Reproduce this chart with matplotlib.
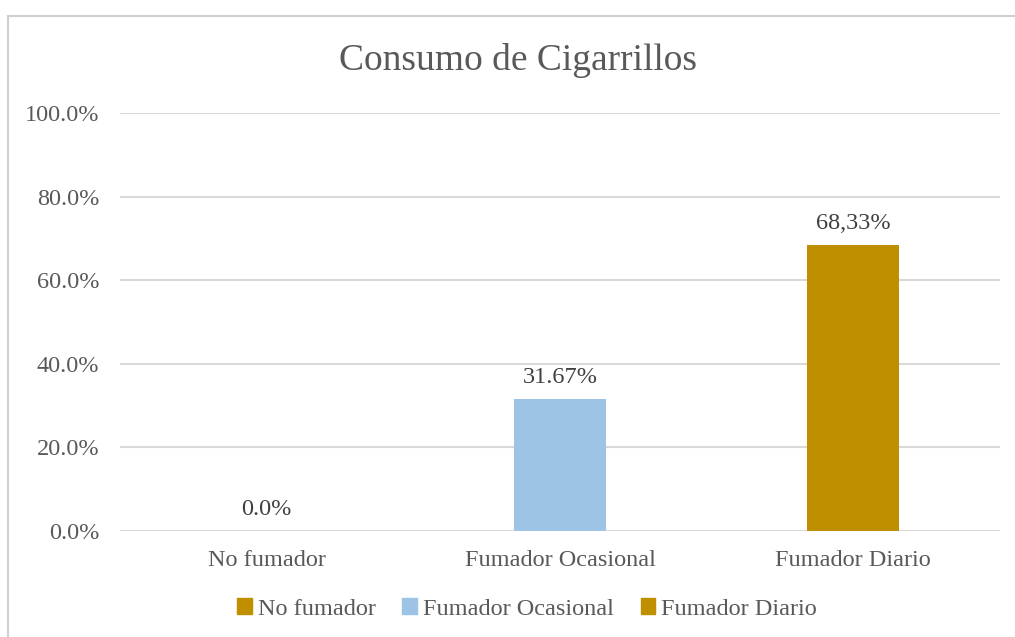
import matplotlib
matplotlib.use("Agg")
import matplotlib.pyplot as plt
from matplotlib.patches import Rectangle
from matplotlib.lines import Line2D

categories = ["No fumador", "Fumador Ocasional", "Fumador Diario"]
values = [0.0, 31.67, 68.33]
labels = ["0.0%", "31.67%", "68,33%"]
colors = ["#BF8F00", "#9DC3E6", "#BF8F00"]
yticks = [0, 20, 40, 60, 80, 100]
ytick_labels = ["0.0%", "20.0%", "40.0%", "60.0%", "80.0%", "100.0%"]

plt.rcParams["font.family"] = ["Liberation Serif", "DejaVu Serif"]
txt = "#595959"

W, H = 1015, 637
fig = plt.figure(figsize=(W / 100, H / 100), dpi=100)

# chart border (right/bottom edges fall outside the picture)
fig.add_artist(Line2D([8 / W, 8 / W], [0, 1 - 16 / H], color="#D0D0D0", lw=1.5))
fig.add_artist(Line2D([8 / W, 1], [1 - 16 / H, 1 - 16 / H], color="#D0D0D0", lw=1.5))

ax = fig.add_axes([120 / W, 1 - 531 / H, 880 / W, 418 / H])
x = range(len(categories))
bars = ax.bar(x, values, width=0.314, color=colors, zorder=3)
ax.set_xlim(-0.5, 2.5)
ax.set_ylim(0, 100)
ax.set_yticks(yticks)
ax.set_yticklabels(ytick_labels, fontsize=17.5, color=txt)
ax.set_xticks(list(x))
ax.set_xticklabels(categories, fontsize=17.5, color=txt)
ax.tick_params(axis="y", length=0, pad=15)
ax.tick_params(axis="x", length=0, pad=14)
ax.grid(axis="y", color="#D9D9D9", lw=1.5, zorder=0)
for s in ax.spines.values():
    s.set_visible(False)

for i, (v, lab) in enumerate(zip(values, labels)):
    ax.annotate(lab, (i, v), xytext=(0, 8), textcoords="offset points",
                ha="center", va="bottom", fontsize=17.5, color="#404040")

fig.text(518 / W, 1 - 61 / H, "Consumo de Cigarrillos",
         ha="center", va="center", fontsize=27, color=txt)

handles = [Rectangle((0, 0), 1, 1, color=c) for c in colors]
fig.legend(handles, categories, loc="center", bbox_to_anchor=(527 / W, 1 - 609 / H),
           ncol=3, frameon=False, fontsize=17.5, handlelength=0.6, handleheight=0.6,
           handletextpad=0.25, columnspacing=1.1, labelcolor=txt)

fig.savefig("out.png", dpi=100)
